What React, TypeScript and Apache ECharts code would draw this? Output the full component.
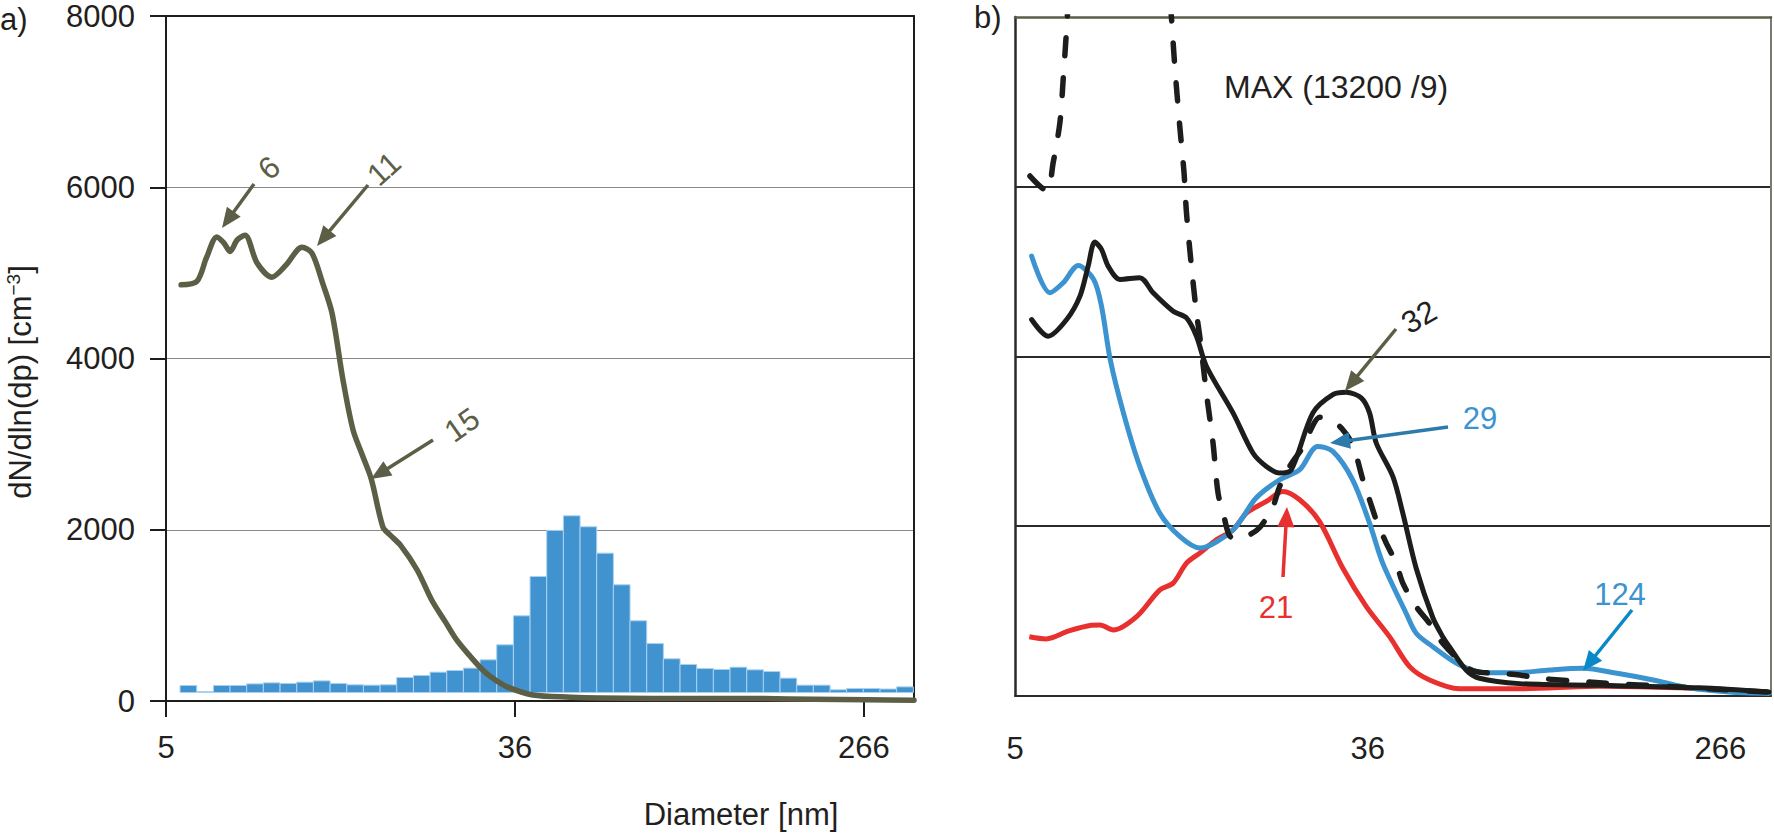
import React, { useEffect, useRef } from "react";
import * as echarts from "echarts";

// ---------- axis data ----------
const xMinDiameter = 5;
const xMaxDiameter = 354;
const xTickDiameters = [5, 36.5, 266];
const xTickLabels = ["5", "36", "266"];
const yMax = 8000;
const yStep = 2000;

// ---------- panel a) histogram (bin centres, nm) ----------
const histBinCenters = [
  5.68, 6.24, 6.87, 7.55, 8.3, 9.13, 10.04, 11.04, 12.14, 13.35, 14.68, 16.14, 17.75, 19.51, 21.46,
  23.59, 25.94, 28.52, 31.36, 34.48, 37.92, 41.69, 45.84, 50.4, 55.42, 60.94, 67.0, 73.67, 81.01,
  89.07, 97.94, 107.7, 118.4, 130.2, 143.2, 157.4, 173.1, 190.3, 209.3, 230.1, 253.0, 278.2, 305.9,
  336.3,
];
const histValues = [
  82, 12, 82, 82, 101, 113, 105, 121, 136, 105, 90, 86, 90, 175, 199, 238, 257, 285, 382, 557, 896,
  1355, 1893, 2064, 1936, 1628, 1258, 838, 572, 394, 327, 280, 269, 296, 265, 245, 168, 86, 86, 32,
  47, 47, 41, 66,
];
const histBinLogWidth = 0.095;

// ---------- panel a) curve ----------
const aDiam = [
  5.45, 5.96, 6.3, 6.68, 6.95, 7.2, 7.5, 7.84, 8.4, 9.14, 9.9, 10.85, 11.48, 12.2, 12.87, 13.7, 14.5,
  15.3, 16.1, 17.2, 17.9, 19.0, 20.9, 22.7, 24.5, 26.2, 28.3, 30.4, 32.5, 34.9, 40.4, 50, 59, 80, 105,
  150, 200, 270, 354,
];
const aVals = [
  4860, 4900, 5180, 5420, 5350, 5250, 5385, 5440, 5115, 4950, 5090, 5300, 5230, 4880, 4530, 3750,
  3170, 2870, 2590, 2030, 1940, 1820, 1530, 1180, 930, 710, 520, 360, 250, 165, 70, 45, 35, 30, 30,
  28, 20, 15, 10,
];

// ---------- panel b) curves ----------
const blackDiam = [
  5.49, 6.03, 6.69, 7.21, 7.55, 7.84, 8.14, 8.45, 9.03, 10.1, 10.89, 12.19, 13.14, 13.9, 14.7, 17.08,
  19.11, 20.61, 22.21, 23.72, 26.79, 29.98, 32.33, 35.17, 36.86, 38.28, 42.03, 44.46, 47.94, 52.64,
  55.67, 57.8, 63.5, 68.5, 85.8, 134.5, 236, 350,
];
const blackVals = [
  4433, 4236, 4433, 4709, 5063, 5346, 5260, 5063, 4906, 4926, 4748, 4531, 4453, 4236, 3882, 3332,
  2859, 2701, 2623, 2662, 3332, 3548, 3575, 3509, 3332, 2977, 2583, 2150, 1500, 920, 694, 576, 301,
  203, 140, 120, 90, 40,
];

const blueDiam = [
  5.49, 6.09, 6.56, 7.14, 7.79, 8.14, 8.55, 9.21, 10.1, 11.3, 12.65, 14.16, 17.08, 19.45, 22.21, 24.87,
  27.5, 29.98, 33.5, 36.86, 39.7, 45.3, 47.94, 52.64, 61.3, 71.2, 84.3, 101.6, 122.6, 148.7, 182.3,
  223, 280, 350,
];
const blueVals = [
  5181, 4749, 4866, 5071, 4906, 4591, 3961, 3332, 2701, 2151, 1875, 1738, 1954, 2328, 2544, 2662,
  2937, 2878, 2544, 2033, 1561, 970, 734, 576, 360, 269, 269, 301, 321, 262, 183, 90, 40, 25,
];

const redDiam = [
  5.42, 5.96, 6.77, 7.69, 8.07, 8.7, 9.92, 11.31, 12.19, 13.14, 14.16, 15.55, 17.08, 18.42, 20.61,
  22.63, 24.87, 27.82, 31.72, 36.2, 41.25, 46.2, 51.7, 61.2, 85.8, 134, 211, 350,
];
const redVals = [
  693, 667, 761, 828, 832, 773, 930, 1246, 1325, 1561, 1679, 1836, 1954, 2151, 2288, 2406, 2308,
  2050, 1500, 1048, 694, 340, 183, 80, 80, 110, 90, 30,
];

const dashDiam = [
  5.44, 5.98, 6.2, 6.44, 6.56, 6.71, 7.2, 8.0, 9.0, 10.0, 11.0, 12.08, 12.3, 12.65, 12.96, 13.14,
  13.51, 13.9, 14.16, 14.7, 15.26, 15.7, 16.3, 16.77, 17.5, 18.42, 19.85, 21.39, 22.21, 23.5, 25.82,
  26.56, 27.82, 29.43, 31.5, 33.55, 35.5, 36.86, 38.28, 40.5, 42.83, 44.46, 47.94, 51.66, 55.67, 63.5,
  67.2, 75.2, 85.8, 96, 134.5, 211, 350,
];
const dashVals = [
  6125, 5948, 6283, 6756, 7267, 7975, 10500, 12700, 13200, 12600, 10600, 7975, 7424, 6716, 6165,
  5693, 5063, 4512, 4236, 3568, 2977, 2387, 2072, 1880, 1850, 1875, 1981, 2229, 2465, 2701, 2990,
  3150, 3280, 3260, 3150, 2950, 2544, 2308, 2072, 1797, 1561, 1325, 1048, 852, 616, 340, 281, 262,
  242, 203, 150, 100, 40,
];

// ---------- colours ----------
const OLIVE = "#5c5e45";
const BLACK = "#1d1d1b";
const BLUE = "#3b93d0";
const RED = "#e8312f";
const BAR = "#4193cf";
const FONT = "Liberation Sans, Arial, sans-serif";

const LN = Math.log;
const lnTicks = xTickDiameters.map((d) => LN(d));
const fmtX = (v: number) => {
  const i = lnTicks.findIndex((t) => Math.abs(t - v) < 1e-3);
  return i >= 0 ? xTickLabels[i] : "";
};
const pairs = (xs: number[], ys: number[]) => xs.map((d, i) => [LN(d), ys[i]]);

function arrow(sx: number, sy: number, tx: number, ty: number, color: string) {
  const headLen = 20;
  const headW = 17;
  const dx = tx - sx;
  const dy = ty - sy;
  const L = Math.hypot(dx, dy);
  const ux = dx / L;
  const uy = dy / L;
  const bx = tx - ux * headLen;
  const by = ty - uy * headLen;
  const px = -uy;
  const py = ux;
  return [
    {
      type: "line",
      z: 50,
      shape: { x1: sx, y1: sy, x2: bx + ux * 3, y2: by + uy * 3 },
      style: { stroke: color, lineWidth: 3.5 },
    },
    {
      type: "polygon",
      z: 50,
      shape: {
        points: [
          [tx, ty],
          [bx + (px * headW) / 2, by + (py * headW) / 2],
          [bx - (px * headW) / 2, by - (py * headW) / 2],
        ],
      },
      style: { fill: color },
    },
  ];
}

function label(text: string, x: number, y: number, color: string, rotDeg = 0, size = 31, align = "center") {
  return {
    type: "text",
    z: 50,
    x,
    y,
    rotation: (rotDeg * Math.PI) / 180,
    style: {
      text,
      fill: color,
      font: `${size}px ${FONT}`,
      align,
      verticalAlign: "middle",
    },
  };
}

export default function App() {
  const ref = useRef<HTMLDivElement>(null);
  useEffect(() => {
    document.body.style.margin = "0";
    document.body.style.overflow = "hidden";
    const chart = echarts.init(ref.current!, null, { renderer: "svg" });

    const xBase = {
      type: "value",
      min: LN(xMinDiameter),
      max: LN(xMaxDiameter),
      splitLine: { show: false },
    };

    const option: any = {
      animation: false,
      backgroundColor: "#ffffff",
      grid: [
        { left: 166, top: 16, width: 748, height: 685 },
        { left: 1015, top: 17, width: 756, height: 678.5 },
      ],
      xAxis: [
        {
          ...xBase,
          gridIndex: 0,
          position: "bottom",
          axisLine: { show: true, onZero: false, lineStyle: { color: BLACK, width: 2 } },
          axisTick: {
            show: true,
            length: 16,
            customValues: lnTicks,
            lineStyle: { color: BLACK, width: 2 },
          },
          axisLabel: {
            customValues: lnTicks,
            formatter: fmtX,
            margin: 31,
            fontSize: 31,
            fontFamily: FONT,
            color: "#231f20",
          },
        },
        {
          ...xBase,
          gridIndex: 0,
          position: "top",
          axisLine: { show: true, onZero: false, lineStyle: { color: BLACK, width: 2 } },
          axisTick: { show: false },
          axisLabel: { show: false },
        },
        {
          ...xBase,
          gridIndex: 1,
          position: "bottom",
          axisLine: { show: true, onZero: false, lineStyle: { color: "#2a2a2a", width: 2 } },
          axisTick: { show: false },
          axisLabel: {
            customValues: lnTicks,
            formatter: fmtX,
            margin: 37,
            fontSize: 31,
            fontFamily: FONT,
            color: "#231f20",
          },
        },
        {
          ...xBase,
          gridIndex: 1,
          position: "top",
          axisLine: { show: true, onZero: false, lineStyle: { color: "#5d5d48", width: 2.5 } },
          axisTick: { show: false },
          axisLabel: { show: false },
        },
      ],
      yAxis: [
        {
          type: "value",
          gridIndex: 0,
          min: 0,
          max: yMax,
          interval: yStep,
          position: "left",
          axisLine: { show: true, onZero: false, lineStyle: { color: BLACK, width: 2 } },
          axisTick: { show: true, length: 16, lineStyle: { color: BLACK, width: 2 } },
          axisLabel: {
            margin: 31,
            fontSize: 31,
            fontFamily: FONT,
            color: "#231f20",
            formatter: (v: number) => String(v),
          },
          splitLine: {
            show: true,
            showMinLine: false,
            showMaxLine: false,
            lineStyle: { color: "#8a8a8a", width: 1 },
          },
        },
        {
          type: "value",
          gridIndex: 0,
          min: 0,
          max: yMax,
          position: "right",
          axisLine: { show: true, onZero: false, lineStyle: { color: BLACK, width: 2 } },
          axisTick: { show: false },
          axisLabel: { show: false },
          splitLine: { show: false },
        },
        {
          type: "value",
          gridIndex: 0,
          min: -99,
          max: yMax - 99,
          show: false,
          splitLine: { show: false },
        },
        {
          type: "value",
          gridIndex: 1,
          min: 0,
          max: yMax,
          interval: yStep,
          position: "left",
          axisLine: { show: true, onZero: false, lineStyle: { color: "#2a2a2a", width: 2.5 } },
          axisTick: { show: false },
          axisLabel: { show: false },
          splitLine: {
            show: true,
            showMinLine: false,
            showMaxLine: false,
            lineStyle: { color: "#2a2a2a", width: 2 },
          },
        },
        {
          type: "value",
          gridIndex: 1,
          min: 0,
          max: yMax,
          position: "right",
          axisLine: { show: true, onZero: false, lineStyle: { color: "#7a7a70", width: 2 } },
          axisTick: { show: false },
          axisLabel: { show: false },
          splitLine: { show: false },
        },
      ],
      series: [
        {
          type: "custom",
          xAxisIndex: 0,
          yAxisIndex: 2,
          z: 2,
          encode: { x: 0, y: 1 },
          data: histBinCenters.map((d, i) => [LN(d), histValues[i]]),
          renderItem: (params: any, api: any) => {
            const x = api.value(0);
            const v = api.value(1);
            const p1 = api.coord([x - histBinLogWidth / 2, v]);
            const p2 = api.coord([x + histBinLogWidth / 2, 0]);
            return {
              type: "rect",
              shape: { x: p1[0], y: p1[1], width: p2[0] - p1[0], height: Math.max(p2[1] - p1[1], 0.8) },
              style: { fill: BAR, stroke: "#a9d1f1", lineWidth: 1 },
            };
          },
        },
        {
          type: "line",
          xAxisIndex: 0,
          yAxisIndex: 0,
          z: 4,
          data: pairs(aDiam, aVals),
          smooth: 0.3,
          showSymbol: false,
          lineStyle: { color: OLIVE, width: 5.5, cap: "round", join: "round" },
        },
        {
          type: "line",
          xAxisIndex: 2,
          yAxisIndex: 3,
          z: 3,
          data: pairs(redDiam, redVals),
          smooth: 0.3,
          showSymbol: false,
          lineStyle: { color: RED, width: 5, join: "round" },
        },
        {
          type: "line",
          xAxisIndex: 2,
          yAxisIndex: 3,
          z: 4,
          data: pairs(blueDiam, blueVals),
          smooth: 0.3,
          showSymbol: false,
          lineStyle: { color: BLUE, width: 5, cap: "round", join: "round" },
        },
        {
          type: "line",
          xAxisIndex: 2,
          yAxisIndex: 3,
          z: 5,
          data: pairs(blackDiam, blackVals),
          smooth: 0.3,
          showSymbol: false,
          lineStyle: { color: BLACK, width: 5, cap: "round", join: "round" },
        },
        {
          type: "line",
          xAxisIndex: 2,
          yAxisIndex: 3,
          z: 6,
          data: pairs(dashDiam, dashVals),
          smooth: 0.3,
          showSymbol: false,
          clip: true,
          lineStyle: { color: BLACK, width: 5.5, type: [18, 22], cap: "round", join: "round" },
        },
      ],
      graphic: [
        label("a)", 0, 19, "#231f20", 0, 31, "left"),
        label("b)", 974, 17, "#231f20", 0, 31, "left"),
        label("MAX (13200 /9)", 1224, 87, "#231f20", 0, 32, "left"),
        {
          type: "text",
          x: 20,
          y: 382,
          rotation: Math.PI / 2,
          style: {
            text: "{a|dN/dln(dp) [cm}{s|−3}{a|]}",
            align: "center",
            verticalAlign: "middle",
            rich: {
              a: { fontSize: 31, fontFamily: FONT, fill: "#231f20", color: "#231f20" },
              s: {
                fontSize: 19,
                fontFamily: FONT,
                fill: "#231f20",
                color: "#231f20",
                verticalAlign: "top",
                padding: [0, 0, 14, 0],
              },
            },
          },
        },
        label("Diameter [nm]", 741, 814, "#231f20", 0, 31),
        ...arrow(254, 184, 222, 228, OLIVE),
        label("6", 269, 168, OLIVE, 40),
        ...arrow(368, 185, 317, 246, OLIVE),
        label("11", 384, 169, OLIVE, 42),
        ...arrow(433, 440, 371, 479, OLIVE),
        label("15", 462, 425, OLIVE, 35),
        ...arrow(1396, 329, 1345, 391, OLIVE),
        label("32", 1419, 317, "#231f20", 30),
        ...arrow(1448, 427, 1330, 443, "#2e7bab"),
        label("29", 1480, 418, BLUE, 0),
        ...arrow(1283, 577, 1287, 507, RED),
        label("21", 1276, 607, RED, 0),
        ...arrow(1632, 610, 1583, 671, "#0a89c9"),
        label("124", 1620, 594, BLUE, 0),
      ],
    };

    chart.setOption(option);
    return () => chart.dispose();
  }, []);
  return <div ref={ref} style={{ width: 1774, height: 839 }} />;
}
